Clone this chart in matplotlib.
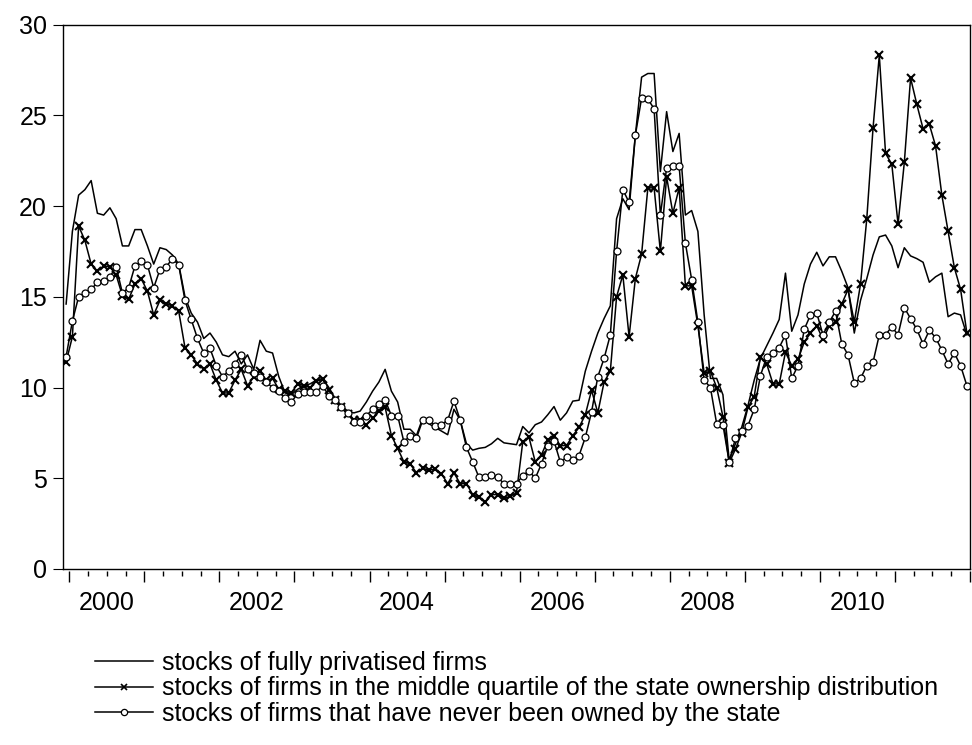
import numpy as np
import matplotlib
matplotlib.use("Agg")
import matplotlib.pyplot as plt
from matplotlib.lines import Line2D

plt.rcParams['font.family'] = ['Liberation Sans', 'DejaVu Sans']

# Monthly observations, 1999M12 .. 2011M12
start_year = 1999 + 11 / 12
n_obs = 145

fully_privatised = [
    14.6, 18.6, 20.6, 20.9, 21.4, 19.6, 19.5, 19.9, 19.3, 17.8, 17.8, 18.7, 18.7,
    17.8, 16.8, 17.7, 17.6, 17.3, 16.8, 15.0, 14.1, 13.6, 12.7, 13.0, 12.5,
    11.8, 11.7, 12.0, 11.3, 11.8, 11.0, 12.6, 12.0, 11.9, 10.6, 9.7, 9.6,
    9.9, 10.1, 10.2, 10.4, 10.5, 10.0, 9.4, 9.0, 8.7, 8.6, 8.7, 9.2,
    9.8, 10.3, 11.0, 9.8, 9.2, 7.7, 7.7, 7.35, 8.3, 8.0, 7.8, 7.6,
    7.4, 8.8, 8.2, 6.9, 6.55, 6.65, 6.7, 6.9, 7.2, 6.95, 6.9, 6.85,
    7.85, 7.5, 7.95, 8.1, 8.5, 8.95, 8.2, 8.6, 9.25, 9.3, 10.9, 12.0,
    13.0, 13.8, 14.5, 19.3, 20.4, 19.8, 23.9, 27.1, 27.3, 27.3, 21.9, 25.2,
    23.0, 24.0, 19.5, 19.75, 18.6, 14.0, 10.5, 10.5, 9.6, 6.0, 6.9, 7.8,
    9.0, 10.4, 11.6, 12.3, 13.0, 13.75, 16.3, 13.1, 14.0, 15.7, 16.8, 17.45,
    16.7, 17.2, 17.2, 16.4, 15.5, 13.0, 14.8, 16.0, 17.3, 18.3, 18.4, 17.8,
    16.6, 17.7, 17.25, 17.1, 16.9, 15.8, 16.1, 16.3, 13.9, 14.1, 14.0, 12.9,
]

middle_quartile = [
    11.4, 12.8, 18.9, 18.1, 16.8, 16.4, 16.7, 16.65, 16.2, 15.05, 14.86, 15.7, 16.0,
    15.3, 14.0, 14.8, 14.6, 14.5, 14.2, 12.2, 11.8, 11.3, 11.0, 11.3, 10.4,
    9.7, 9.7, 10.4, 11.0, 10.1, 10.6, 10.9, 10.4, 10.5, 9.9, 9.8, 9.7,
    10.2, 10.1, 10.0, 10.35, 10.45, 9.85, 9.3, 8.9, 8.55, 8.2, 8.2, 7.95,
    8.3, 8.7, 8.9, 7.35, 6.65, 5.9, 5.8, 5.3, 5.55, 5.45, 5.5, 5.25,
    4.7, 5.3, 4.7, 4.7, 4.1, 3.95, 3.7, 4.1, 4.1, 3.9, 4.0, 4.2,
    7.0, 7.25, 5.9, 6.3, 7.1, 7.35, 6.8, 6.8, 7.35, 7.8, 8.5, 9.85,
    8.6, 10.3, 10.9, 15.0, 16.2, 12.8, 16.0, 17.35, 21.0, 21.0, 17.5, 21.6,
    19.6, 21.0, 15.6, 15.6, 13.4, 10.8, 10.9, 10.0, 8.4, 5.85, 6.6, 7.5,
    8.9, 9.5, 11.7, 11.3, 10.2, 10.2, 11.95, 11.2, 11.55, 12.5, 13.0, 13.4,
    12.65, 13.4, 13.6, 14.6, 15.4, 13.6, 15.7, 19.3, 24.3, 28.3, 22.9, 22.3,
    19.0, 22.4, 27.05, 25.6, 24.25, 24.5, 23.3, 20.6, 18.6, 16.6, 15.4, 13.0,
]

never_state = [
    11.7, 13.66, 15.0, 15.2, 15.4, 15.8, 15.85, 16.1, 16.65, 15.2, 15.5, 16.7, 16.95,
    16.75, 15.5, 16.5, 16.65, 17.1, 16.75, 14.8, 13.75, 12.7, 11.9, 12.15, 11.2,
    10.6, 10.9, 11.3, 11.8, 11.0, 10.8, 10.6, 10.3, 10.0, 9.8, 9.4, 9.2,
    9.65, 9.75, 9.75, 9.75, 10.1, 9.55, 9.3, 8.9, 8.6, 8.1, 8.1, 8.45,
    8.8, 9.1, 9.3, 8.45, 8.45, 7.0, 7.35, 7.2, 8.2, 8.2, 7.9, 7.95,
    8.2, 9.25, 8.2, 6.7, 5.9, 5.05, 5.05, 5.2, 5.05, 4.7, 4.7, 4.7,
    5.15, 5.4, 5.0, 5.8, 6.8, 7.05, 5.9, 6.15, 6.0, 6.25, 7.25, 8.65,
    10.6, 11.6, 12.9, 17.5, 20.9, 20.2, 23.9, 25.95, 25.9, 25.35, 19.5, 22.1,
    22.2, 22.2, 17.95, 15.95, 13.6, 10.4, 10.0, 8.0, 7.95, 5.9, 7.2, 7.6,
    7.9, 8.8, 10.65, 11.7, 11.9, 12.2, 12.9, 10.5, 11.2, 13.2, 14.0, 14.1,
    12.9, 13.6, 14.2, 12.4, 11.8, 10.25, 10.5, 11.2, 11.4, 12.9, 12.9, 13.35,
    12.9, 14.4, 13.8, 13.2, 12.4, 13.15, 12.75, 12.06, 11.3, 11.9, 11.2, 10.1,
]

series_labels = [
    "stocks of fully privatised firms",
    "stocks of firms in the middle quartile of the state ownership distribution",
    "stocks of firms that have never been owned by the state",
]

year_ticks = list(range(2000, 2013))
year_labels = ["2000", "2002", "2004", "2006", "2008", "2010"]
y_ticks = [0, 5, 10, 15, 20, 25, 30]

assert len(fully_privatised) == n_obs
assert len(middle_quartile) == n_obs
assert len(never_state) == n_obs

# each observation sits in the middle of its month
t = start_year + (np.arange(n_obs) + 0.5) / 12

W, H = 972, 745
fig = plt.figure(figsize=(W / 100, H / 100), dpi=100)
ax = fig.add_axes([63 / W, 1 - 569 / H, (970 - 63) / W, (569 - 24.5) / H])

lw = 1.1
fs = 18
ax.plot(t, fully_privatised, color="black", lw=lw)
ax.plot(t, middle_quartile, color="black", lw=lw, marker="x", ms=5.5, mew=1.5)
ax.plot(t, never_state, color="black", lw=lw, marker="o", ms=5.0, mew=0.9,
        mfc="white", mec="black")

ax.set_xlim(start_year, 2012)
ax.set_ylim(0, 30)

for s in ax.spines.values():
    s.set_linewidth(1.0)

# y axis
ax.set_yticks(y_ticks)
ax.tick_params(axis="y", direction="out", length=7.5, width=0.8, pad=4,
               labelsize=fs)

# year labels centred on each (even) year
ax.set_xticks([int(y) + 0.5 for y in year_labels])
ax.set_xticklabels(year_labels)
ax.tick_params(axis="x", length=0, pad=15.5, labelsize=fs)

# year and quarter tick marks, detached slightly below the frame
sec = ax.secondary_xaxis(-0.004)
sec.spines["bottom"].set_visible(False)
sec.set_xticks(year_ticks)
sec.set_xticklabels([""] * len(year_ticks))
quarters = [y + q / 4 for y in range(2000, 2012) for q in (1, 2, 3)]
sec.set_xticks(quarters, minor=True)
sec.tick_params(axis="x", which="major", direction="out", length=8, width=1.0)
sec.tick_params(axis="x", which="minor", direction="out", length=3.8, width=1.0)

handles = [
    Line2D([], [], color="black", lw=lw),
    Line2D([], [], color="black", lw=lw, marker="x", ms=5, mew=1.2),
    Line2D([], [], color="black", lw=lw, marker="o", ms=4.5, mew=0.9,
           mfc="white", mec="black"),
]
fig.legend(handles, series_labels, loc="upper left",
           bbox_to_anchor=(95 / W, 1 - 651 / H), frameon=False,
           fontsize=fs, handlelength=2.3, handletextpad=0.4,
           labelspacing=0.06, borderpad=0, borderaxespad=0, numpoints=1)

fig.savefig("out.png", dpi=100, facecolor="white")
